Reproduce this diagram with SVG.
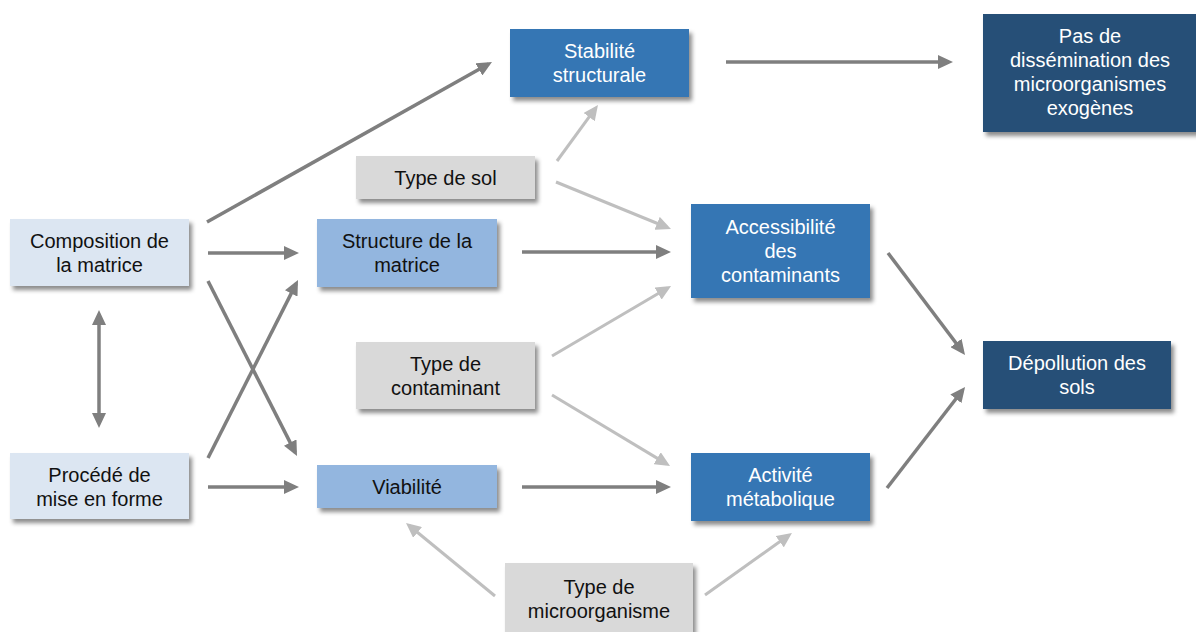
<svg xmlns="http://www.w3.org/2000/svg" width="1196" height="632" viewBox="0 0 1196 632">
<style>
  text { font-family: "Liberation Sans", Arial, sans-serif; font-size: 20px; text-anchor: middle; }
  .light { fill: #dce6f2; }
  .mid { fill: #93b6df; }
  .blue { fill: #3476b4; }
  .dark { fill: #254f77; }
  .gray { fill: #d9d9d9; }
  .box { filter: url(#shadow); }
  .tb { fill: #111111; }
  .tw { fill: #ffffff; }
  .cd { stroke: #7f7f7f; stroke-width: 3.5; fill: none; marker-end: url(#ad); }
  .cl { stroke: #bfbfbf; stroke-width: 3; fill: none; marker-end: url(#al); }
</style>
<defs>
  <filter id="shadow" x="-10%" y="-10%" width="130%" height="140%">
    <feDropShadow dx="3" dy="4" stdDeviation="2" flood-color="#000000" flood-opacity="0.45"/>
  </filter>
  <marker id="ad" markerUnits="userSpaceOnUse" markerWidth="16" markerHeight="14" refX="11" refY="7" orient="auto-start-reverse">
    <path d="M0,0 L15,7 L0,14 z" fill="#7f7f7f"/>
  </marker>
  <marker id="al" markerUnits="userSpaceOnUse" markerWidth="16" markerHeight="14" refX="11" refY="7" orient="auto-start-reverse">
    <path d="M0,0 L15,7 L0,14 z" fill="#bfbfbf"/>
  </marker>
</defs>
<rect width="1196" height="632" fill="#ffffff"/>

<g id="connectors">
  <line class="cd" x1="207" y1="222" x2="488.5" y2="64"/>
  <line class="cd" x1="208" y1="253" x2="295" y2="253"/>
  <line class="cd" x1="208" y1="281" x2="295.2" y2="452.4"/>
  <line class="cd" x1="208" y1="458" x2="296.2" y2="283.6"/>
  <line class="cd" x1="208" y1="487" x2="295" y2="487"/>
  <line class="cd" x1="522" y1="252" x2="667" y2="252"/>
  <line class="cd" x1="522" y1="487" x2="667" y2="487"/>
  <line class="cd" x1="726" y1="62" x2="949" y2="62"/>
  <line class="cd" x1="888" y1="253" x2="962.6" y2="351.8"/>
  <line class="cd" x1="887" y1="488" x2="962.6" y2="390.2"/>
  <line class="cd" x1="99" y1="314" x2="99" y2="424" marker-start="url(#ad)"/>
  <line class="cl" x1="557" y1="161" x2="595.6" y2="108.2"/>
  <line class="cl" x1="556" y1="182" x2="667.3" y2="227.5"/>
  <line class="cl" x1="552" y1="356" x2="667.6" y2="288"/>
  <line class="cl" x1="552" y1="395" x2="666.6" y2="463.9"/>
  <line class="cl" x1="495" y1="596" x2="409.1" y2="525.5"/>
  <line class="cl" x1="705" y1="595" x2="788.7" y2="535.3"/>
</g>

<g id="composition">
  <rect class="box light" x="10" y="219" width="179" height="67"/>
  <text class="tb" x="99.5" y="248">Composition de</text>
  <text class="tb" x="99.5" y="272">la matrice</text>
</g>
<g id="procede">
  <rect class="box light" x="10" y="453" width="179" height="66"/>
  <text class="tb" x="99.5" y="482">Procédé de</text>
  <text class="tb" x="99.5" y="506">mise en forme</text>
</g>
<g id="structure">
  <rect class="box mid" x="317" y="219" width="180" height="68"/>
  <text class="tb" x="407" y="248">Structure de la</text>
  <text class="tb" x="407" y="272">matrice</text>
</g>
<g id="viabilite">
  <rect class="box mid" x="317" y="465" width="180" height="43"/>
  <text class="tb" x="407" y="494">Viabilité</text>
</g>
<g id="typesol">
  <rect class="box gray" x="356" y="156" width="179" height="43"/>
  <text class="tb" x="445.5" y="185">Type de sol</text>
</g>
<g id="typecontaminant">
  <rect class="box gray" x="356" y="342" width="179" height="67"/>
  <text class="tb" x="445.5" y="371">Type de</text>
  <text class="tb" x="445.5" y="395">contaminant</text>
</g>
<g id="typemicro">
  <rect class="box gray" x="505" y="563" width="188" height="74"/>
  <text class="tb" x="599" y="594">Type de</text>
  <text class="tb" x="599" y="618">microorganisme</text>
</g>
<g id="stabilite">
  <rect class="box blue" x="510" y="29" width="179" height="68"/>
  <text class="tw" x="599.5" y="58">Stabilité</text>
  <text class="tw" x="599.5" y="82">structurale</text>
</g>
<g id="accessibilite">
  <rect class="box blue" x="691" y="204" width="179" height="94"/>
  <text class="tw" x="780.5" y="234">Accessibilité</text>
  <text class="tw" x="780.5" y="258">des</text>
  <text class="tw" x="780.5" y="282">contaminants</text>
</g>
<g id="activite">
  <rect class="box blue" x="691" y="453" width="179" height="68"/>
  <text class="tw" x="780.5" y="482">Activité</text>
  <text class="tw" x="780.5" y="506">métabolique</text>
</g>
<g id="dissemination">
  <rect class="box dark" x="983" y="14" width="216" height="118"/>
  <text class="tw" x="1090" y="43">Pas de</text>
  <text class="tw" x="1090" y="67">dissémination des</text>
  <text class="tw" x="1090" y="91">microorganismes</text>
  <text class="tw" x="1090" y="115">exogènes</text>
</g>
<g id="depollution">
  <rect class="box dark" x="983" y="341" width="188" height="68"/>
  <text class="tw" x="1077" y="370">Dépollution des</text>
  <text class="tw" x="1077" y="394">sols</text>
</g>
</svg>
